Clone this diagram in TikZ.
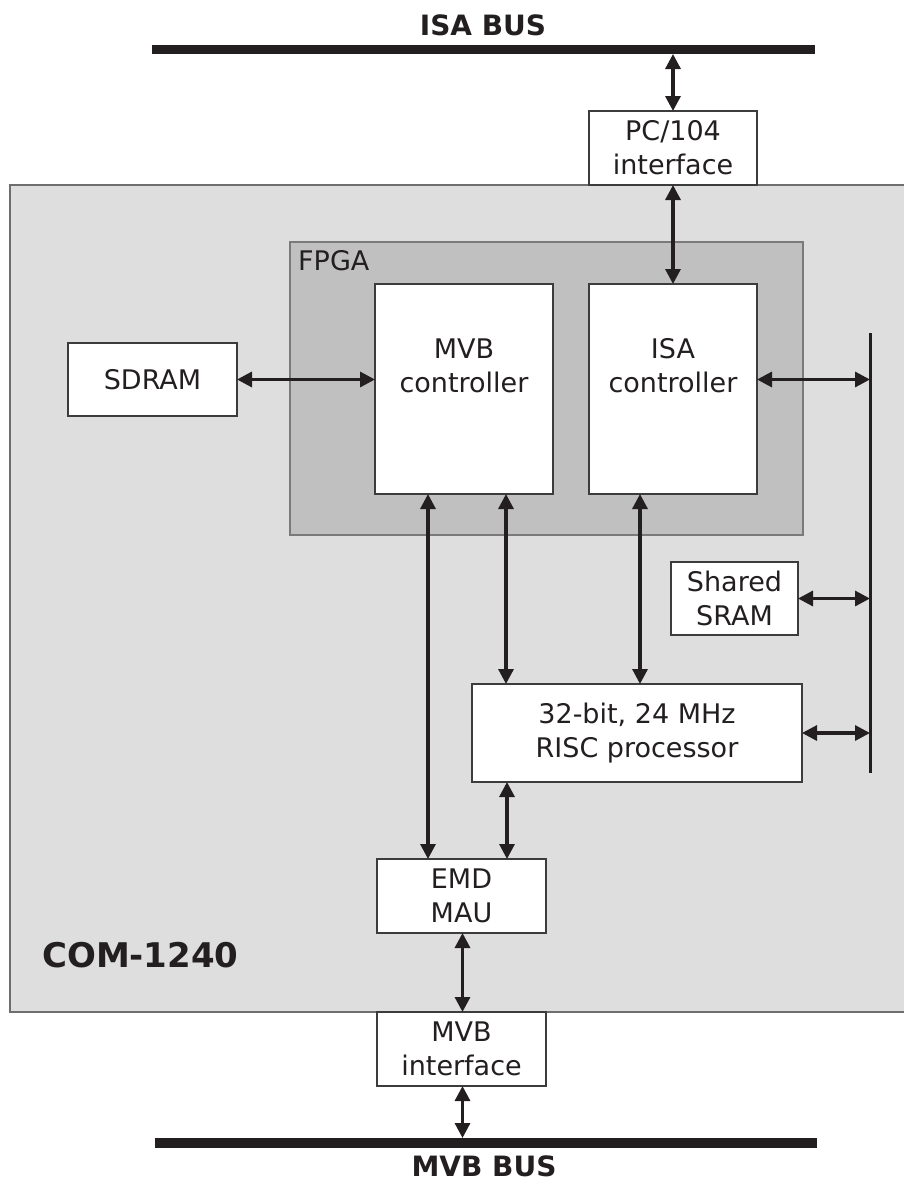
\documentclass[tikz,border=0pt]{standalone}
\usepackage{fontspec}
\setmainfont{DejaVu Sans}
\usetikzlibrary{arrows.meta}
\definecolor{ink}{RGB}{35,31,32}
\definecolor{comfill}{RGB}{222,222,222}
\definecolor{fpgafill}{RGB}{192,192,192}
\definecolor{comline}{RGB}{110,110,110}
\definecolor{fpgaline}{RGB}{122,122,122}
\definecolor{boxline}{RGB}{60,60,60}
\tikzset{
  box/.style={draw=boxline, line width=1.2pt, fill=white, inner sep=0pt, outer sep=0pt,
    anchor=north west, align=center, text=ink, font=\fontsize{27}{34}\selectfont},
  txt/.style={text=ink, align=center, inner sep=0pt, font=\fontsize{27}{34}\selectfont},
  bold/.style={text=ink, inner sep=0pt, font=\fontsize{28}{32}\selectfont\bfseries},
  arr/.style={draw=ink, line width=3.2pt, {Triangle[length=15pt,width=15pt]}-{Triangle[length=15pt,width=15pt]}},
  bar/.style={fill=ink, draw=none, inner sep=0pt, outer sep=0pt, anchor=north west}
}
\begin{document}
\begin{tikzpicture}[x=1pt,y=-1pt]
\useasboundingbox (0,0) rectangle (903,1194);
% buses
\node[bold] (isalbl) at (483,25) {ISA BUS};
\node[bar, minimum width=663pt, minimum height=9pt] (isabus) at (152,45) {};
\node[bold] (mvblbl) at (484,1166) {MVB BUS};
\node[bar, minimum width=662pt, minimum height=10pt] (mvbbus) at (155,1138) {};
% COM board
\node[draw=comline, line width=1.5pt, fill=comfill, inner sep=0pt, outer sep=0pt, anchor=north west,
  minimum width=900pt, minimum height=827pt] (com) at (10,185) {};
\node[bold, font=\fontsize{34}{38}\selectfont\bfseries, anchor=west] (comlbl) at (42,955) {COM-1240};
% FPGA
\node[draw=fpgaline, line width=2pt, fill=fpgafill, inner sep=0pt, outer sep=0pt, anchor=north west,
  minimum width=513pt, minimum height=293pt] (fpga) at (290,242) {};
\node[txt, anchor=north west] (fpgalbl) at (298,250) {FPGA};
% boxes
\node[box, minimum width=168pt, minimum height=74pt] (pc) at (589,111) {PC/104\\interface};
\node[box, minimum width=178pt, minimum height=210pt] (mvbc) at (375,284) {};
\node[txt] (mvbctxt) at (464,366) {MVB\\controller};
\node[box, minimum width=168pt, minimum height=210pt] (isac) at (589,284) {};
\node[txt] (isactxt) at (673,366) {ISA\\controller};
\node[box, minimum width=169pt, minimum height=73pt] (sdram) at (68,343) {SDRAM};
\node[box, minimum width=127pt, minimum height=73pt] (sram) at (671,562) {Shared\\SRAM};
\node[box, minimum width=330pt, minimum height=98pt] (risc) at (472,684) {32-bit, 24 MHz\\RISC processor};
\node[box, minimum width=169pt, minimum height=74pt] (emd) at (377,859) {EMD\\MAU};
\node[box, minimum width=169pt, minimum height=74pt] (mvbi) at (377,1012) {MVB\\interface};
% internal bus line
\coordinate (lbtop) at (870,333);
\coordinate (lbbot) at (870,773);
\draw[ink, line width=3pt] (lbtop) -- (lbbot);
% connectors
\draw[arr] (pc.north) -- (pc.north |- isabus.south);
\draw[arr] (pc.south) -- (pc.south |- isac.north);
\draw[arr] (sdram.east) -- (sdram.east -| mvbc.west);
\draw[arr] (isac.east |- sdram.east) -- (lbtop |- sdram.east);
\draw[arr] (sram.east) -- (lbtop |- sram.east);
\draw[arr] (risc.east) -- (lbtop |- risc.east);
\draw[arr] ([xshift=-36pt]mvbc.south) -- ([xshift=-36pt]mvbc.south |- emd.north);
\draw[arr] ([xshift=42pt]mvbc.south) -- ([xshift=42pt]mvbc.south |- risc.north);
\draw[arr] ([xshift=-33pt]isac.south) -- ([xshift=-33pt]isac.south |- risc.north);
\draw[arr] ([xshift=35pt]risc.south west) -- ([xshift=35pt]risc.south west |- emd.north);
\draw[arr] ([xshift=1pt]emd.south) -- ([xshift=1pt]emd.south |- mvbi.north);
\draw[arr] ([xshift=1pt]mvbi.south) -- ([xshift=1pt]mvbi.south |- mvbbus.north);
\end{tikzpicture}
\end{document}
